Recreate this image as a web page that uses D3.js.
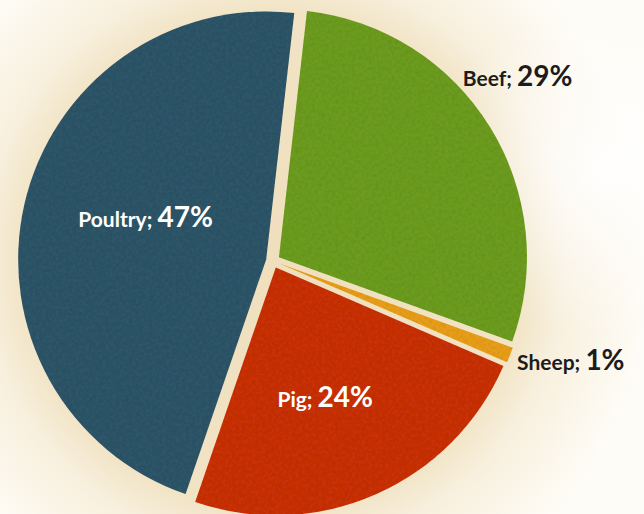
<!DOCTYPE html>
<html><head><meta charset="utf-8">
<script src="https://cdnjs.cloudflare.com/ajax/libs/d3/7.8.5/d3.min.js"></script>
<style>html,body{margin:0;padding:0;background:#fff;}svg{display:block;}</style>
</head><body>
<svg id="chart" width="644" height="514"></svg>
<script>
// ---- data ----
const categories = ["Beef", "Sheep", "Pig", "Poultry"];
const shares = [29, 1, 24, 47];
const pctLabels = ["29%", "1%", "24%", "47%"];

// ---- layout / style ----
const W = 644, H = 514;
const cx = 273, cy = 261, R = 248, explode = 7;
const startDeg = 6.5;
const colors = {Beef: "#6c9b20", Sheep: "#e79d1d", Pig: "#c7310f", Poultry: "#2e5467"};
const labelStyle = {
  Beef:    {r: 301, dA: -3.8, fill: "#1c1c1c"},
  Sheep:   {r: 317, dA: -1.6, fill: "#1c1c1c"},
  Pig:     {r: 155, dA: 4.1,  fill: "#ffffff"},
  Poultry: {r: 132, dA: 2.4,  fill: "#ffffff"}
};

const svg = d3.select("#chart");
const defs = svg.append("defs");

const bg = defs.append("radialGradient").attr("id", "bg")
  .attr("gradientUnits", "userSpaceOnUse").attr("cx", cx).attr("cy", cy).attr("r", R + 130);
bg.append("stop").attr("offset", "0").attr("stop-color", "#efdfbd");
bg.append("stop").attr("offset", R / (R + 130)).attr("stop-color", "#f1e3c4");
bg.append("stop").attr("offset", (R + 45) / (R + 130)).attr("stop-color", "#f8f0de");
bg.append("stop").attr("offset", "1").attr("stop-color", "#fefcf6");

const bg2 = defs.append("radialGradient").attr("id", "bg2")
  .attr("gradientUnits", "userSpaceOnUse").attr("cx", 600).attr("cy", 170).attr("r", 170);
bg2.append("stop").attr("offset", "0").attr("stop-color", "#ffffff").attr("stop-opacity", 0.9);
bg2.append("stop").attr("offset", "1").attr("stop-color", "#ffffff").attr("stop-opacity", 0);

const tex = defs.append("filter").attr("id", "tex").attr("x", 0).attr("y", 0).attr("width", 1).attr("height", 1);
tex.append("feTurbulence").attr("type", "fractalNoise").attr("baseFrequency", 0.3).attr("numOctaves", 2).attr("seed", 5).attr("result", "noise");
tex.append("feColorMatrix").attr("in", "noise").attr("type", "matrix")
  .attr("values", "0 0 0 0 0  0 0 0 0 0  0 0 0 0 0  0 0 0 -0.3 0.18").attr("result", "dark");
tex.append("feComposite").attr("in", "dark").attr("in2", "SourceGraphic").attr("operator", "in").attr("result", "darkIn");
tex.append("feMerge").selectAll("feMergeNode").data(["SourceGraphic", "darkIn"]).join("feMergeNode").attr("in", d => d);

svg.append("rect").attr("width", W).attr("height", H).attr("fill", "url(#bg)");
svg.append("rect").attr("width", W).attr("height", H).attr("fill", "url(#bg2)");

const pie = d3.pie().sort(null).value(d => d.v)
  .startAngle(startDeg * Math.PI / 180).endAngle((startDeg + 360) * Math.PI / 180);
const data = categories.map((c, i) => ({c, v: shares[i], p: pctLabels[i]}));
const arcs = pie(data);
const arc = d3.arc().innerRadius(0).outerRadius(R);

const g = svg.append("g").attr("transform", `translate(${cx},${cy})`);
g.selectAll("path.slice").data(arcs).join("path")
  .attr("class", "slice")
  .attr("d", arc)
  .attr("fill", d => colors[d.data.c])
  .attr("filter", "url(#tex)")
  .attr("transform", d => {
    const a = (d.startAngle + d.endAngle) / 2;
    return `translate(${explode * Math.sin(a)},${-explode * Math.cos(a)})`;
  });

const lab = g.selectAll("text.lab").data(arcs).join("text")
  .attr("class", "lab")
  .attr("text-anchor", "middle")
  .attr("font-family", "Lato, 'Open Sans', sans-serif")
  .attr("font-weight", 700)
  .attr("fill", d => labelStyle[d.data.c].fill)
  .attr("x", d => { const s = labelStyle[d.data.c]; const a = (d.startAngle + d.endAngle) / 2 + s.dA * Math.PI / 180; return s.r * Math.sin(a); })
  .attr("y", d => { const s = labelStyle[d.data.c]; const a = (d.startAngle + d.endAngle) / 2 + s.dA * Math.PI / 180; return -s.r * Math.cos(a); });
lab.append("tspan").attr("font-size", 21).text(d => d.data.c + "; ");
lab.append("tspan").attr("font-size", 28).text(d => d.data.p);
</script>
</body></html>
